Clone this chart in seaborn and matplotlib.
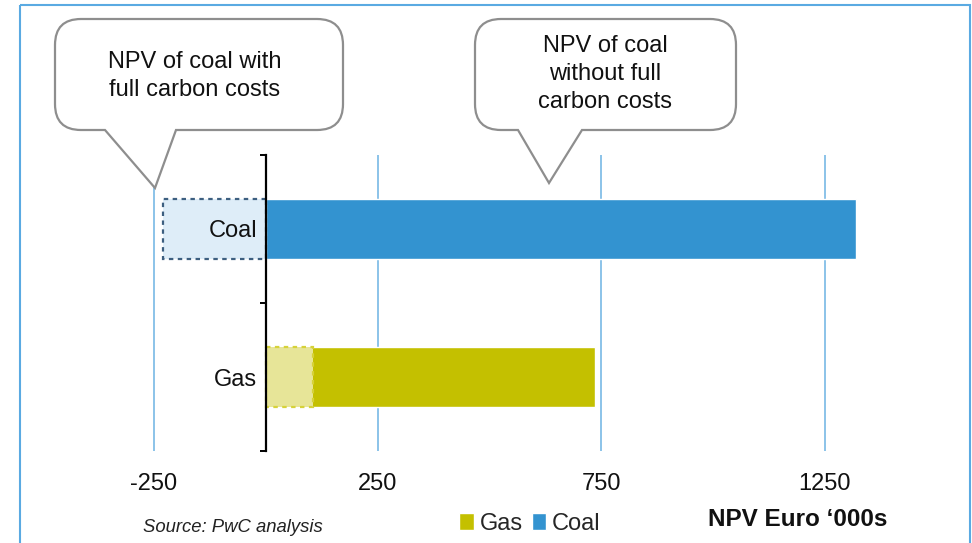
import matplotlib
matplotlib.use("Agg")
import matplotlib.pyplot as plt
from matplotlib.patches import Patch, PathPatch, Rectangle
from matplotlib.path import Path
import seaborn as sns

# data (NPV, Euro '000s)
categories = ["Coal", "Gas"]
npv_without_carbon = [1320, 735]    # solid bars
npv_with_carbon = [-230, 105]       # dashed, lighter bars
x_ticks = [-250, 250, 750, 1250]

solid_colors = {"Coal": "#3393d0", "Gas": "#c4c000"}
light_colors = {"Coal": "#deedf8", "Gas": "#e7e598"}
dash_edges = {"Coal": "#3d5f80", "Gas": "#d6d23a"}

sns.set_theme(style="white")
plt.rcParams["font.family"] = ["Liberation Sans", "DejaVu Sans"]

W, H = 972, 543
fig = plt.figure(figsize=(W / 100, H / 100), dpi=100)

# main axes: 0 sits at px 265.8, 0.4473 px per unit
px_per_unit = 0.4473
zero_px = 265.8
ax_left, ax_right, ax_top, ax_bot = 20, 960, 155, 451
ax = fig.add_axes([ax_left / W, 1 - ax_bot / H, (ax_right - ax_left) / W, (ax_bot - ax_top) / H])

sns.barplot(x=npv_without_carbon, y=categories, hue=categories, palette=solid_colors,
            orient="h", width=0.4, errorbar=None, legend=False, ax=ax, saturation=1)
n_solid = len(ax.patches)
sns.barplot(x=npv_with_carbon, y=categories, hue=categories, palette=light_colors,
            orient="h", width=0.4, errorbar=None, legend=False, ax=ax, saturation=1)
for p, cat in zip(ax.patches[n_solid:], categories):
    p.set_edgecolor(dash_edges[cat])
    p.set_linestyle((0, (2, 2)))
    p.set_linewidth(1.6)

ax.set_xlim((ax_left - zero_px) / px_per_unit, (ax_right - zero_px) / px_per_unit)
ax.set_ylim(1.5, -0.5)
ax.set_xlabel("")
ax.set_ylabel("")

for s in ["top", "right", "bottom"]:
    ax.spines[s].set_visible(False)
ax.spines["left"].set_position(("data", 0))
ax.spines["left"].set_color("black")
ax.spines["left"].set_linewidth(1.6)

# vertical gridlines kept under the bars, axis (labels) drawn above the bars
ax.set_axisbelow(False)
ax.set_xticks(x_ticks)
ax.set_xticklabels([str(v) for v in x_ticks])
ax.vlines(x_ticks, -0.5, 1.5, colors="#6cb3e3", linewidth=1.1, zorder=0)
ax.tick_params(axis="x", length=0, pad=15.5, labelsize=17, labelcolor="#111111")

ax.set_yticks([0, 1])
ax.set_yticklabels(categories)
ax.set_yticks([-0.5, 0.5, 1.5], minor=True)
ax.tick_params(axis="y", which="major", length=0, pad=6, labelsize=17, labelcolor="#111111")
ax.tick_params(axis="y", which="minor", left=True, length=4.5, width=1.4, color="black")

# overlay in pixel coordinates for callouts, frame and footer
ov = fig.add_axes([0, 0, 1, 1])
ov.set_xlim(0, W)
ov.set_ylim(H, 0)
ov.axis("off")


def callout(x0, y0, x1, y1, bx0, bx1, tip, r=26):
    verts = [(bx0, y1), tip, (bx1, y1), (x1 - r, y1), (x1, y1), (x1, y1 - r),
             (x1, y0 + r), (x1, y0), (x1 - r, y0), (x0 + r, y0), (x0, y0), (x0, y0 + r),
             (x0, y1 - r), (x0, y1), (x0 + r, y1), (bx0, y1)]
    codes = [Path.MOVETO, Path.LINETO, Path.LINETO, Path.LINETO, Path.CURVE3, Path.CURVE3,
             Path.LINETO, Path.CURVE3, Path.CURVE3, Path.LINETO, Path.CURVE3, Path.CURVE3,
             Path.LINETO, Path.CURVE3, Path.CURVE3, Path.CLOSEPOLY]
    ov.add_patch(PathPatch(Path(verts, codes), facecolor="white", edgecolor="#8e8e8e",
                           linewidth=1.6, zorder=3))


callout(55, 19, 343, 130, 105, 176, (155, 188))
ov.text(195, 76, "NPV of coal with\nfull carbon costs", ha="center", va="center",
        fontsize=17, linespacing=1.34, color="#111111", zorder=4)
callout(475, 19, 736, 130, 518, 582, (549, 183))
ov.text(605, 74, "NPV of coal\nwithout full\ncarbon costs", ha="center", va="center",
        fontsize=17, linespacing=1.34, color="#111111", zorder=4)

ov.add_patch(Rectangle((20, 5), 950, 560, fill=False, edgecolor="#5aaae2", linewidth=1.5))

ov.text(143, 527, "Source: PwC analysis", ha="left", va="center", fontsize=13.3,
        style="italic", color="#222222")
ov.text(798, 520, "NPV Euro \u2018000s", ha="center", va="center", fontsize=17.5,
        fontweight="bold", color="#111111")

handles = [Patch(facecolor=solid_colors[c], label=c) for c in ["Gas", "Coal"]]
fig.legend(handles=handles, loc="center", bbox_to_anchor=(530 / W, 1 - 524 / H), ncol=2,
           frameon=False, fontsize=17, handlelength=0.6, handleheight=0.75,
           handletextpad=0.25, columnspacing=0.4, borderaxespad=0)

fig.savefig("out.png", dpi=100)
